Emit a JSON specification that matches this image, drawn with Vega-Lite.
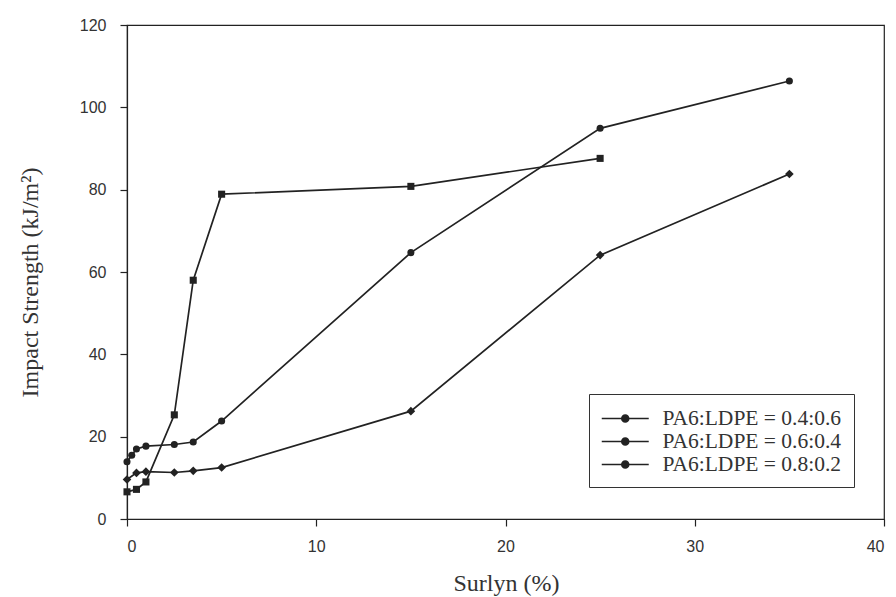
{
  "$schema": "https://vega.github.io/schema/vega-lite/v6.json",
  "autosize": "none",
  "width": 757,
  "height": 494,
  "padding": {"left": 127, "top": 25, "right": 12, "bottom": 78},
  "background": "white",
  "config": {
    "view": {"stroke": "#222", "strokeWidth": 1.2},
    "axis": {
      "grid": false,
      "domainColor": "#222",
      "domainWidth": 1.2,
      "tickColor": "#222",
      "tickSize": 7,
      "tickWidth": 1.2,
      "labelFont": "Liberation Sans",
      "labelFontSize": 16,
      "labelColor": "#333",
      "titleFont": "Liberation Serif",
      "titleFontWeight": "normal",
      "titleFontSize": 24,
      "titleColor": "#333"
    }
  },
  "data": {
    "values": [
      {"series": "PA6:LDPE = 0.4:0.6", "surlyn": 0, "impact": 13.9},
      {"series": "PA6:LDPE = 0.4:0.6", "surlyn": 0.25, "impact": 15.5},
      {"series": "PA6:LDPE = 0.4:0.6", "surlyn": 0.5, "impact": 17.0},
      {"series": "PA6:LDPE = 0.4:0.6", "surlyn": 1, "impact": 17.7},
      {"series": "PA6:LDPE = 0.4:0.6", "surlyn": 2.5, "impact": 18.1},
      {"series": "PA6:LDPE = 0.4:0.6", "surlyn": 3.5, "impact": 18.7},
      {"series": "PA6:LDPE = 0.4:0.6", "surlyn": 5, "impact": 23.8},
      {"series": "PA6:LDPE = 0.4:0.6", "surlyn": 15, "impact": 64.7},
      {"series": "PA6:LDPE = 0.4:0.6", "surlyn": 25, "impact": 94.9},
      {"series": "PA6:LDPE = 0.4:0.6", "surlyn": 35, "impact": 106.4},
      {"series": "PA6:LDPE = 0.6:0.4", "surlyn": 0, "impact": 9.6},
      {"series": "PA6:LDPE = 0.6:0.4", "surlyn": 0.5, "impact": 11.2},
      {"series": "PA6:LDPE = 0.6:0.4", "surlyn": 1, "impact": 11.5},
      {"series": "PA6:LDPE = 0.6:0.4", "surlyn": 2.5, "impact": 11.3},
      {"series": "PA6:LDPE = 0.6:0.4", "surlyn": 3.5, "impact": 11.7},
      {"series": "PA6:LDPE = 0.6:0.4", "surlyn": 5, "impact": 12.5},
      {"series": "PA6:LDPE = 0.6:0.4", "surlyn": 15, "impact": 26.2},
      {"series": "PA6:LDPE = 0.6:0.4", "surlyn": 25, "impact": 64.1},
      {"series": "PA6:LDPE = 0.6:0.4", "surlyn": 35, "impact": 83.8},
      {"series": "PA6:LDPE = 0.8:0.2", "surlyn": 0, "impact": 6.6},
      {"series": "PA6:LDPE = 0.8:0.2", "surlyn": 0.5, "impact": 7.2},
      {"series": "PA6:LDPE = 0.8:0.2", "surlyn": 1, "impact": 9.0},
      {"series": "PA6:LDPE = 0.8:0.2", "surlyn": 2.5, "impact": 25.3},
      {"series": "PA6:LDPE = 0.8:0.2", "surlyn": 3.5, "impact": 58.0},
      {"series": "PA6:LDPE = 0.8:0.2", "surlyn": 5, "impact": 78.9},
      {"series": "PA6:LDPE = 0.8:0.2", "surlyn": 15, "impact": 80.8},
      {"series": "PA6:LDPE = 0.8:0.2", "surlyn": 25, "impact": 87.6}
    ]
  },
  "encoding": {
    "x": {
      "field": "surlyn",
      "type": "quantitative",
      "scale": {"domain": [0, 40], "nice": false, "zero": false},
      "axis": {
        "values": [0, 10, 20, 30, 40],
        "title": "Surlyn (%)",
        "labelPadding": 12,
        "titleX": 379,
        "titleY": 64,
        "titleBaseline": "middle",
        "titleAlign": "center"
      }
    },
    "y": {
      "field": "impact",
      "type": "quantitative",
      "scale": {"domain": [0, 120], "nice": false},
      "axis": {
        "values": [0, 20, 40, 60, 80, 100, 120],
        "title": "Impact Strength (kJ/m²)",
        "labelPadding": 14,
        "titleX": -97,
        "titleY": 257,
        "titleAngle": -90,
        "titleBaseline": "middle",
        "titleAlign": "center"
      }
    }
  },
  "layer": [
    {
      "mark": {"type": "line", "strokeWidth": 1.7},
      "encoding": {
        "color": {
          "field": "series",
          "type": "nominal",
          "scale": {
            "domain": ["PA6:LDPE = 0.4:0.6", "PA6:LDPE = 0.6:0.4", "PA6:LDPE = 0.8:0.2"],
            "range": ["#222", "#222", "#222"]
          },
          "legend": {
            "title": null,
            "orient": "none",
            "legendX": 462,
            "legendY": 369,
            "padding": 12,
            "strokeColor": "#333",
            "fillColor": "white",
            "labelFont": "Liberation Serif",
            "labelFontSize": 21.5,
            "labelColor": "#333",
            "labelLimit": 400,
            "labelOffset": 36.5,
            "rowPadding": 0,
            "symbolType": "M-1,0H3M0.7,0a0.3,0.3 0 1,0 0.6,0a0.3,0.3 0 1,0 -0.6,0",
            "symbolSize": 552,
            "symbolStrokeWidth": 1.5,
            "symbolStrokeColor": "#222",
            "symbolFillColor": "#222"
          }
        }
      }
    },
    {
      "transform": [{"filter": "datum.series === 'PA6:LDPE = 0.4:0.6'"}],
      "mark": {"type": "point", "filled": true, "size": 50, "opacity": 1, "color": "#222", "shape": "circle"}
    },
    {
      "transform": [{"filter": "datum.series === 'PA6:LDPE = 0.6:0.4'"}],
      "mark": {"type": "point", "filled": true, "size": 75, "opacity": 1, "color": "#222", "shape": "diamond"}
    },
    {
      "transform": [{"filter": "datum.series === 'PA6:LDPE = 0.8:0.2'"}],
      "mark": {"type": "point", "filled": true, "size": 50, "opacity": 1, "color": "#222", "shape": "square"}
    }
  ]
}
